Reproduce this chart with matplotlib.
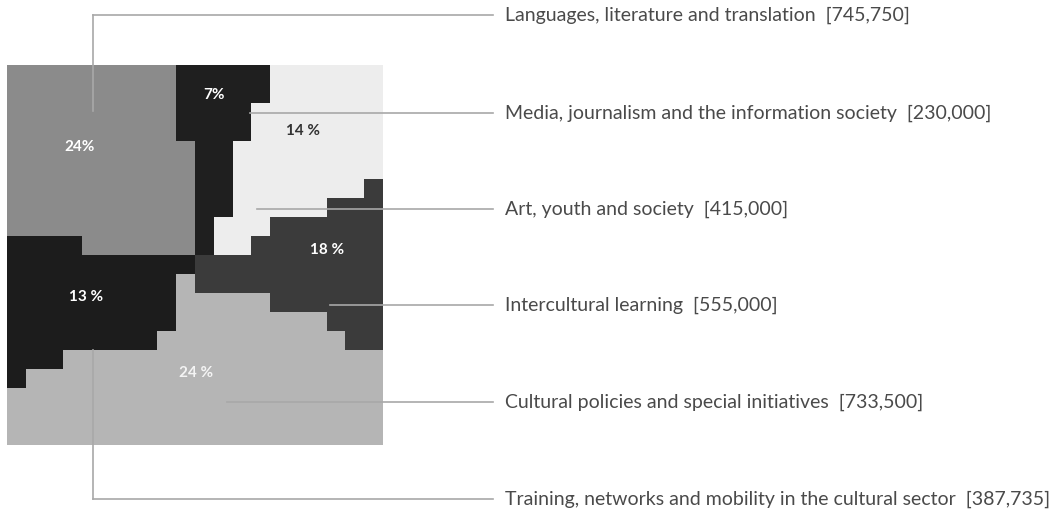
import numpy as np
import matplotlib
matplotlib.use("Agg")
import matplotlib.pyplot as plt
from matplotlib.colors import ListedColormap

# budget lines (label, amount, share shown on the mosaic)
categories = [
    "Languages, literature and translation",
    "Media, journalism and the information society",
    "Art, youth and society",
    "Intercultural learning",
    "Cultural policies and special initiatives",
    "Training, networks and mobility in the cultural sector",
]
amounts = [745750, 230000, 415000, 555000, 733500, 387735]
shares = ["24%", "7%", "14 %", "18 %", "24 %", "13 %"]

# 20 x 20 mosaic, one letter per cell (A = first category ...)
mosaic = [
    "AAAAAAAAABBBBBCCCCCC",
    "AAAAAAAAABBBBBCCCCCC",
    "AAAAAAAAABBBBCCCCCCC",
    "AAAAAAAAABBBBCCCCCCC",
    "AAAAAAAAAABBCCCCCCCC",
    "AAAAAAAAAABBCCCCCCCC",
    "AAAAAAAAAABBCCCCCCCD",
    "AAAAAAAAAABBCCCCCDDD",
    "AAAAAAAAAABCCCDDDDDD",
    "FFFFAAAAAABCCDDDDDDD",
    "FFFFFFFFFFDDDDDDDDDD",
    "FFFFFFFFFEDDDDDDDDDD",
    "FFFFFFFFFEEEEEDDDDDD",
    "FFFFFFFFFEEEEEEEEDDD",
    "FFFFFFFFEEEEEEEEEEDD",
    "FFFEEEEEEEEEEEEEEEEE",
    "FEEEEEEEEEEEEEEEEEEE",
    "EEEEEEEEEEEEEEEEEEEE",
    "EEEEEEEEEEEEEEEEEEEE",
    "EEEEEEEEEEEEEEEEEEEE",
]

colors = ["#8b8b8b", "#1f1f1f", "#ededed", "#3b3b3b", "#b5b5b5", "#1c1c1c"]
share_colors = ["white", "white", "#333333", "white", "#f4f4f4", "white"]

# layout (pixel space)
box = (7, 383, 445, 65)
share_pos = [(80, 147), (214, 95), (303, 131), (327, 250), (196, 373), (86, 297)]
label_y = [15, 113, 209, 305, 402, 499]
line_start = [93, 250, 257, 330, 227, 93]
line_end = 493
text_x = 505

grid = np.array([[ord(ch) - ord("A") for ch in row] for row in mosaic])

fig = plt.figure(figsize=(10.52, 5.17), dpi=100)
ax = fig.add_axes([0, 0, 1, 1])
ax.imshow(grid, cmap=ListedColormap(colors), vmin=-0.5, vmax=len(colors) - 0.5,
          extent=box, interpolation="nearest", aspect="auto")
ax.set_xlim(0, 1052)
ax.set_ylim(517, 0)
ax.axis("off")

lc = "#a8a8a8"
# vertical risers for the first and last label
ax.plot([93, 93], [15, 111], color=lc, lw=1.2)
ax.plot([93, 93], [350, 499], color=lc, lw=1.2)

for i, name in enumerate(categories):
    y = label_y[i]
    ax.plot([line_start[i], line_end], [y, y], color=lc, lw=1.2)
    ax.text(text_x, y, f"{name}  [{amounts[i]:,}]", family="Lato",
            fontsize=14, color="#4a4a4a", va="center", ha="left")
    sx, sy = share_pos[i]
    ax.text(sx, sy, shares[i], family="Lato", fontweight="bold",
            fontsize=11, color=share_colors[i], ha="center", va="center")

fig.savefig("out.png", dpi=100)
